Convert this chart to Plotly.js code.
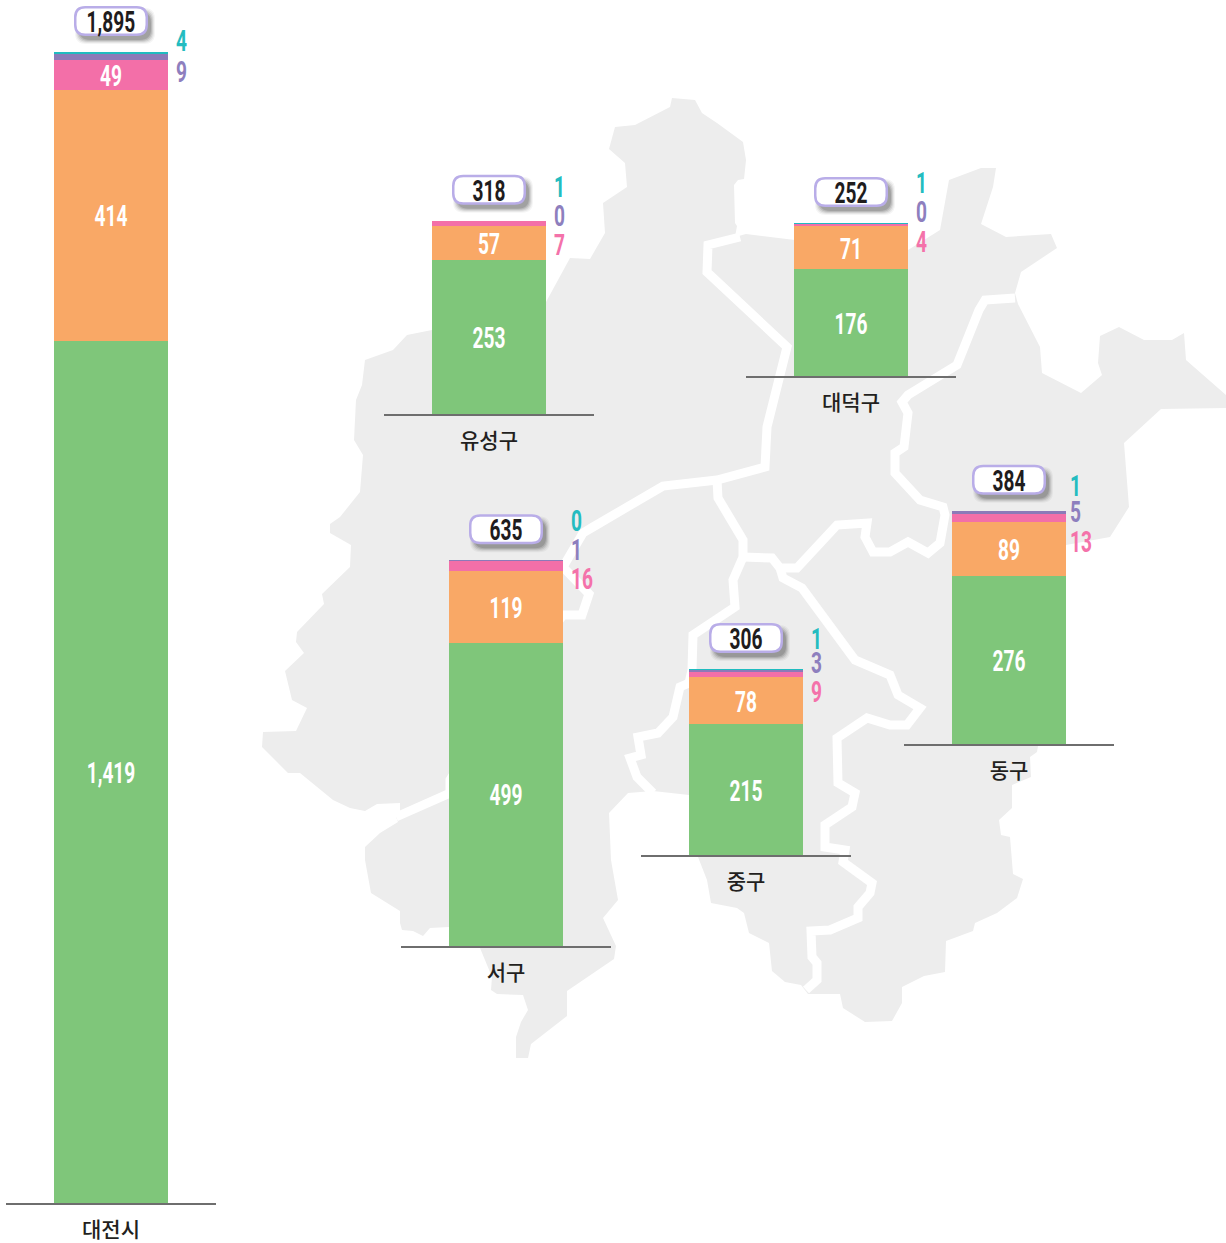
<!DOCTYPE html>
<html>
<head>
<meta charset="utf-8">
<script src="https://cdn.plot.ly/plotly-3.0.1.min.js"></script>
<style>html,body{margin:0;padding:0;background:#fff}#chart{width:1226px;height:1243px}</style>
</head>
<body>
<div id="chart"></div>
<script>
// ---- data ----
const regions = ['대전시', '유성구', '대덕구', '서구', '중구', '동구'];
const seriesA = [1419, 253, 176, 499, 215, 276]; // green
const seriesB = [414, 57, 71, 119, 78, 89];      // orange
const seriesC = [49, 7, 4, 16, 9, 13];           // pink
const seriesD = [9, 0, 0, 1, 3, 5];              // purple
const seriesE = [4, 1, 1, 0, 1, 1];              // teal
const totals = [1895, 318, 252, 635, 306, 384];

// ---- styles ----
const seriesColors = ['#7fc67a', '#f9a866', '#f36fa8', '#8c7ab8', '#1fbcc0'];
const labelColors = {C: '#f472aa', D: '#8e7fbe', E: '#24bcc0'};
const numFont = 'Roboto, sans-serif';
const numSize = 29;
const condense = 0.66;

// ---- layout of the panels (pixels on the page) ----
const W = 1226, H = 1243;
const pxPerUnit = 0.6075;
const panelHalfWidth = 105;
const barWidth = 114;
const panelCenterX = [111, 489, 851, 506, 746, 1009];
const panelBaseY = [1203, 414, 376, 946, 855, 744];
const labelShiftX = [63, 63, 63, 63, 63, 59];
const labelShiftE = [12, 35, 41, 40, 31, 26];
const labelShiftD = [-19, 6, 12, 11, 7, 0];
const labelShiftC = [null, -23, -18, -18, -22, -30];
const headroomPx = 52;

// ---- map silhouette, traced in page pixels ----
const mapOutline = [[672,98],[695,100],[702,113],[717,123],[743,142],[746,160],[744,179],[738,180],[734,185],[735,223],[737,226],[735,237],[746,234],[795,240],[908,250],[940,230],[949,180],[981,168],[996,168],[993,187],[981,224],[1006,237],[1051,234],[1057,248],[1021,272],[1015,293],[1018,304],[1040,347],[1042,373],[1081,393],[1102,375],[1098,363],[1100,336],[1119,327],[1144,340],[1172,340],[1184,333],[1186,360],[1226,395],[1226,408],[1161,409],[1124,443],[1129,507],[1110,537],[1066,545],[1066,745],[1038,746],[1037,752],[1030,757],[1031,777],[1012,785],[1012,808],[999,820],[1001,835],[1010,837],[1013,874],[1023,879],[1017,898],[997,913],[975,923],[973,931],[946,941],[945,972],[924,976],[902,987],[902,1003],[892,1021],[865,1022],[843,1008],[840,994],[808,994],[801,985],[785,982],[772,971],[769,943],[749,933],[744,913],[737,908],[711,903],[707,880],[698,857],[689,856],[689,795],[653,791],[628,793],[609,813],[611,860],[618,900],[603,918],[616,946],[614,959],[567,991],[567,1016],[531,1044],[528,1058],[516,1058],[516,1037],[521,1022],[528,1010],[523,995],[497,994],[491,990],[492,977],[480,948],[449,947],[449,927],[430,928],[423,936],[413,931],[402,930],[400,923],[400,911],[371,893],[365,860],[365,847],[380,833],[398,822],[396,817],[400,811],[400,803],[377,804],[365,811],[350,808],[333,800],[300,773],[288,773],[262,747],[263,732],[296,731],[307,708],[292,700],[285,671],[304,653],[296,642],[297,632],[324,604],[322,594],[350,567],[351,545],[330,533],[330,524],[340,517],[360,492],[363,455],[354,440],[356,400],[362,385],[365,360],[393,350],[407,335],[432,330],[546,302],[570,258],[590,259],[605,233],[603,203],[627,187],[625,163],[609,149],[615,127],[635,125],[670,107]];
const borderYuseongDaedeok = [[740,237],[708,245],[707,272],[787,347],[767,427],[765,467],[717,480],[663,486],[593,527],[583,533],[563,567],[589,594],[582,615],[563,615],[500,700],[450,780],[450,793],[396,817]];
const borderSeoJung = [[717,480],[718,498],[743,540],[743,557],[733,580],[735,607],[693,635],[692,670],[689,683],[680,687],[673,717],[658,733],[638,737],[641,755],[630,758],[637,777],[648,788],[653,793]];
const borderDaedeokDong = [[743,557],[772,558],[780,568],[797,568],[837,525],[867,523],[865,537],[873,552],[890,552],[908,542],[928,553],[940,543],[945,515],[943,507],[920,500],[895,473],[895,453],[904,447],[908,413],[902,402],[908,395],[957,365],[979,310],[985,300],[1015,298]];
const borderJungDong = [[780,568],[783,578],[802,588],[855,660],[890,675],[898,695],[920,708],[907,725],[890,725],[867,718],[837,738],[838,783],[855,793],[852,807],[825,825],[825,847],[845,850],[843,862],[872,883],[870,893],[858,907],[858,918],[830,930],[811,931],[812,957],[817,963],[817,980],[806,990]];
const mapBorders = [borderYuseongDaedeok, borderSeoJung, borderDaedeokDong, borderJungDong];

const traces = [];
traces.push({
  type: 'scatter', mode: 'lines', xaxis: 'x', yaxis: 'y',
  x: mapOutline.map(p => p[0]).concat(mapOutline[0][0]),
  y: mapOutline.map(p => p[1]).concat(mapOutline[0][1]),
  fill: 'toself', fillcolor: '#ededed', line: {width: 0, color: '#ededed'},
  hoverinfo: 'skip', showlegend: false
});
mapBorders.forEach(b => traces.push({
  type: 'scatter', mode: 'lines', xaxis: 'x', yaxis: 'y',
  x: b.map(p => p[0]), y: b.map(p => p[1]),
  line: {width: 9, color: '#ffffff'}, hoverinfo: 'skip', showlegend: false
}));

const layout = {
  width: W, height: H, margin: {l: 0, r: 0, t: 0, b: 0, pad: 0},
  paper_bgcolor: '#ffffff', plot_bgcolor: 'rgba(0,0,0,0)',
  barmode: 'stack', bargap: 1 - barWidth / (2 * panelHalfWidth), showlegend: false,
  xaxis: {domain: [0, 1], range: [0, W], visible: false, fixedrange: true},
  yaxis: {domain: [0, 1], range: [H, 0], visible: false, fixedrange: true},
  annotations: [], shapes: []
};

function pill(w, h, r, dx, dy) {
  const l = dx - w / 2, R = dx + w / 2, b = dy - h / 2, t = dy + h / 2;
  return `M${l + r},${b} L${R - r},${b} Q${R},${b} ${R},${b + r} L${R},${t - r} Q${R},${t} ${R - r},${t} L${l + r},${t} Q${l},${t} ${l},${t - r} L${l},${b + r} Q${l},${b} ${l + r},${b} Z`;
}

regions.forEach((name, i) => {
  const n = i + 2, xa = 'x' + n, ya = 'y' + n;
  const vals = [seriesA[i], seriesB[i], seriesC[i], seriesD[i], seriesE[i]];
  const rangeMax = totals[i] + headroomPx / pxPerUnit;
  const bottom = (H - panelBaseY[i]) / H;
  layout['xaxis' + n] = {
    domain: [(panelCenterX[i] - panelHalfWidth) / W, (panelCenterX[i] + panelHalfWidth) / W],
    anchor: ya, type: 'category', range: [-0.5, 0.5], fixedrange: true,
    showline: true, linecolor: '#6e6e6e', linewidth: 1.5, showgrid: false, zeroline: false,
    ticks: '', ticklabelstandoff: 7,
    tickfont: {family: 'Noto Sans CJK KR, sans-serif', size: 21, color: '#231f20', weight: 500}
  };
  layout['yaxis' + n] = {
    domain: [bottom, Math.min(1, bottom + rangeMax * pxPerUnit / H)],
    anchor: xa, range: [0, rangeMax], visible: false, fixedrange: true
  };
  vals.forEach((v, s) => {
    const showInside = v * pxPerUnit >= 28;
    traces.push({
      type: 'bar', xaxis: xa, yaxis: ya, x: [name], y: [v],
      marker: {color: seriesColors[s], line: {width: 0}},
      text: [showInside ? v.toLocaleString('en-US') : ''],
      textposition: 'inside', insidetextanchor: 'middle', textangle: 0,
      constraintext: 'none',
      textfont: {family: numFont, size: numSize, color: '#ffffff', weight: 700},
      hoverinfo: 'skip', showlegend: false
    });
  });
  // small-segment labels beside the bar
  [['E', seriesE[i], labelShiftE[i]], ['D', seriesD[i], labelShiftD[i]], ['C', seriesC[i], labelShiftC[i]]].forEach(([k, v, shift]) => {
    if (shift === null) return;
    layout.annotations.push({
      xref: xa, yref: ya, x: name, y: totals[i], xanchor: 'left', yanchor: 'middle',
      xshift: labelShiftX[i], yshift: shift, showarrow: false, text: String(v),
      font: {family: numFont, size: numSize, color: labelColors[k], weight: 700}
    });
  });
  // total pill
  const base = {xref: xa, yref: ya, xsizemode: 'pixel', ysizemode: 'pixel', xanchor: name, yanchor: totals[i], type: 'path'};
  [[8, 0.05], [6, 0.08], [4, 0.12], [2, 0.16], [0, 0.2]].forEach(([grow, op]) => {
    layout.shapes.push(Object.assign({}, base, {
      path: pill(72 + grow, 28 + grow, 11, 4, 31 - 5), fillcolor: '#404040', opacity: op, line: {width: 0}
    }));
  });
  layout.shapes.push(Object.assign({}, base, {
    path: pill(71.5, 27.5, 10, 0, 31), fillcolor: '#ffffff', line: {color: '#b9ade8', width: 2.5}
  }));
  layout.annotations.push({
    xref: xa, yref: ya, x: name, y: totals[i], yshift: 31, xanchor: 'center', yanchor: 'middle',
    showarrow: false, text: totals[i].toLocaleString('en-US'),
    font: {family: numFont, size: numSize, color: '#1f1c1d', weight: 700}
  });
});

// The source uses a condensed numeric face; none is installed, so narrow the real text elements.
function narrow(el, leftPivot) {
  const box = el.getBBox();
  const list = el.transform.baseVal;
  const m = list.numberOfItems ? list.consolidate().matrix : {a: 1, c: 0, e: 0};
  const bx = leftPivot ? box.x : box.x + box.width / 2;
  const px = m.a * bx + m.c * (box.y + box.height / 2) + m.e;
  const old = el.getAttribute('transform') || '';
  el.setAttribute('transform', `translate(${px},1) scale(${condense},1) translate(${-px},0) ${old}`);
}

Plotly.newPlot('chart', traces, layout, {staticPlot: true, displayModeBar: false}).then(gd => {
  gd.querySelectorAll('.annotation').forEach(a => {
    const idx = +a.getAttribute('data-index');
    const t = a.querySelector('text');
    if (t) narrow(t, layout.annotations[idx].xanchor === 'left');
  });
  gd.querySelectorAll('.bartext text, text.bartext').forEach(t => narrow(t, false));
});
</script>
</body>
</html>
